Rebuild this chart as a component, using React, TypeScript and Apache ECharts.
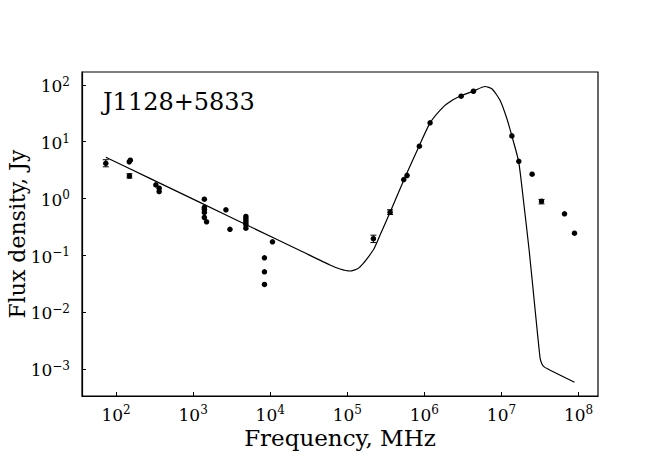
import React, { useEffect, useRef } from "react";
import * as echarts from "echarts";

// Observed data points (frequency in MHz, flux density in Jy)
const pointFreq = [
  73.5, 148, 153, 149, 328, 362, 362,
  1397, 1397, 1397, 1397, 1397, 1493, 2660, 3000,
  4830, 4830, 4830, 4830, 4830, 4830,
  8410, 8410, 8410, 10690,
  2.18e5, 3.59e5, 5.4e5, 5.96e5, 8.61e5, 1.186e6, 3.0e6, 4.33e6,
  1.365e7, 1.68e7, 2.5e7, 3.31e7, 6.58e7, 8.87e7,
];
const pointFlux = [
  4.15, 4.4, 4.7, 2.48, 1.73, 1.51, 1.32,
  0.968, 0.692, 0.638, 0.565, 0.461, 0.387, 0.63, 0.286,
  0.48, 0.437, 0.403, 0.372, 0.343, 0.299,
  0.09, 0.051, 0.0305, 0.172,
  0.195, 0.571, 2.15, 2.53, 8.3, 21.4, 63, 77,
  12.6, 4.5, 2.67, 0.89, 0.535, 0.244,
];

// Error bars
const errFreq = [73.5, 149, 2.18e5, 3.59e5, 3.31e7];
const errLow = [3.6, 2.28, 0.167, 0.52, 0.8];
const errHigh = [4.8, 2.72, 0.225, 0.63, 0.96];

// Model curve
const modelFreq = [
  73.5, 274, 1222, 5450, 24300, 59600, 80400, 1.084e5, 1.377e5, 1.648e5,
  1.858e5, 2.22e5, 2.66e5, 3.59e5, 5.61e5, 8.53e5, 1.186e6, 1.75e6, 2.3e6, 2.91e6,
  4.29e6, 6.14e6, 7.57e6, 9.62e6, 1.175e7, 1.365e7, 1.671e7, 1.93e7, 2.29e7,
  2.74e7, 3.03e7, 3.18e7, 3.35e7, 3.62e7, 4.29e7, 8.87e7,
];
const modelFlux = [
  5.31, 2.25, 0.851, 0.32, 0.121, 0.0672, 0.0571, 0.0527, 0.0583, 0.0743,
  0.0912, 0.13, 0.226, 0.571, 2.36, 8.3, 21.4, 40.5, 53.5, 63.0,
  77.1, 93.3, 84.3, 52.9, 25.5, 12.6, 4.47, 0.918, 0.121,
  0.0106, 0.00275, 0.00152, 0.00122, 0.00107, 0.000944, 0.000581,
];

const xTickExps = [2, 3, 4, 5, 6, 7, 8];
const yTickExps = [-3, -2, -1, 0, 1, 2];

const sourceName = "J1128+5833";
const xTitle = "Frequency, MHz";
const yTitle = "Flux density, Jy";

const FONT = "DejaVu Serif";

function powLabel(v: number, exps: number[]) {
  const l = Math.log10(v);
  const e = Math.round(l);
  if (Math.abs(l - e) > 0.01 || exps.indexOf(e) < 0) return "";
  const s = e < 0 ? "\u2212" + Math.abs(e) : String(e);
  return `{b|10}{s|${s}}`;
}

const richStyle = {
  b: { fontFamily: FONT, fontSize: 17, color: "#000", verticalAlign: "bottom", lineHeight: 20 },
  s: { fontFamily: FONT, fontSize: 12, color: "#000", verticalAlign: "bottom", lineHeight: 20, padding: [0, 0, 7, 0] },
};

export default function App() {
  const ref = useRef<HTMLDivElement>(null);
  useEffect(() => {
    if (!ref.current) return;
    const chart = echarts.init(ref.current, undefined, { renderer: "svg" });
    const points = pointFreq.map((f, i) => [f, pointFlux[i]]);
    const errs = errFreq.map((f, i) => [f, errLow[i], errHigh[i]]);
    const model = modelFreq.map((f, i) => [f, modelFlux[i]]);
    chart.setOption({
      animation: false,
      backgroundColor: "#fff",
      grid: {
        left: 82,
        top: 72,
        width: 516,
        height: 324,
        show: true,
        borderColor: "#000",
        borderWidth: 1.2,
        backgroundColor: "transparent",
        containLabel: false,
        outerBoundsMode: "none",
      },
      xAxis: {
        type: "log",
        logBase: 10,
        min: 36.1,
        max: 1.79e8,
        splitNumber: 7,
        name: xTitle,
        nameLocation: "middle",
        nameGap: 30,
        nameMoveOverlap: false,
        nameTextStyle: { fontFamily: FONT, fontSize: 23, color: "#000" },
        axisLine: { show: true, lineStyle: { color: "#000", width: 1.2 } },
        axisTick: { show: true, inside: true, length: 4, lineStyle: { color: "#000" } },
        minorTick: { show: false },
        splitLine: { show: false },
        axisLabel: {
          margin: 7,
          formatter: (v: number) => powLabel(v, xTickExps),
          rich: richStyle,
          showMinLabel: false,
          showMaxLabel: false,
        },
      },
      yAxis: {
        type: "log",
        logBase: 10,
        min: 3.32e-4,
        max: 168,
        splitNumber: 6,
        name: yTitle,
        nameLocation: "middle",
        nameGap: 54,
        nameMoveOverlap: false,
        nameTextStyle: { fontFamily: FONT, fontSize: 22, color: "#000" },
        axisLine: { show: true, lineStyle: { color: "#000", width: 1.2 } },
        axisTick: { show: true, inside: true, length: 4, lineStyle: { color: "#000" } },
        minorTick: { show: false },
        splitLine: { show: false },
        axisLabel: {
          margin: 12,
          formatter: (v: number) => powLabel(v, yTickExps),
          rich: richStyle,
          showMinLabel: false,
          showMaxLabel: false,
        },
      },
      graphic: [
        {
          type: "text",
          left: 103,
          top: 90,
          style: { text: sourceName, fontFamily: FONT, fontSize: 24, fill: "#000" },
        },
      ],
      series: [
        {
          type: "line",
          data: model,
          showSymbol: false,
          smooth: 0.2,
          lineStyle: { color: "#000", width: 1.2 },
          z: 2,
        },
        {
          type: "custom",
          data: errs,
          encode: { x: 0, y: [1, 2] },
          renderItem: (params: any, api: any) => {
            const x = api.value(0);
            const p1 = api.coord([x, api.value(1)]);
            const p2 = api.coord([x, api.value(2)]);
            const w = 3;
            const st = { stroke: "#000", lineWidth: 1 };
            return {
              type: "group",
              children: [
                { type: "line", shape: { x1: p1[0], y1: p1[1], x2: p2[0], y2: p2[1] }, style: st },
                { type: "line", shape: { x1: p1[0] - w, y1: p1[1], x2: p1[0] + w, y2: p1[1] }, style: st },
                { type: "line", shape: { x1: p2[0] - w, y1: p2[1], x2: p2[0] + w, y2: p2[1] }, style: st },
              ],
            };
          },
          z: 3,
        },
        {
          type: "scatter",
          data: points,
          symbol: "circle",
          symbolSize: 5.5,
          itemStyle: { color: "#000", opacity: 1 },
          z: 4,
        },
      ],
    });
    return () => chart.dispose();
  }, []);
  return (
    <div
      ref={ref}
      style={{ position: "fixed", left: 0, top: 0, width: 664, height: 470 }}
    />
  );
}
